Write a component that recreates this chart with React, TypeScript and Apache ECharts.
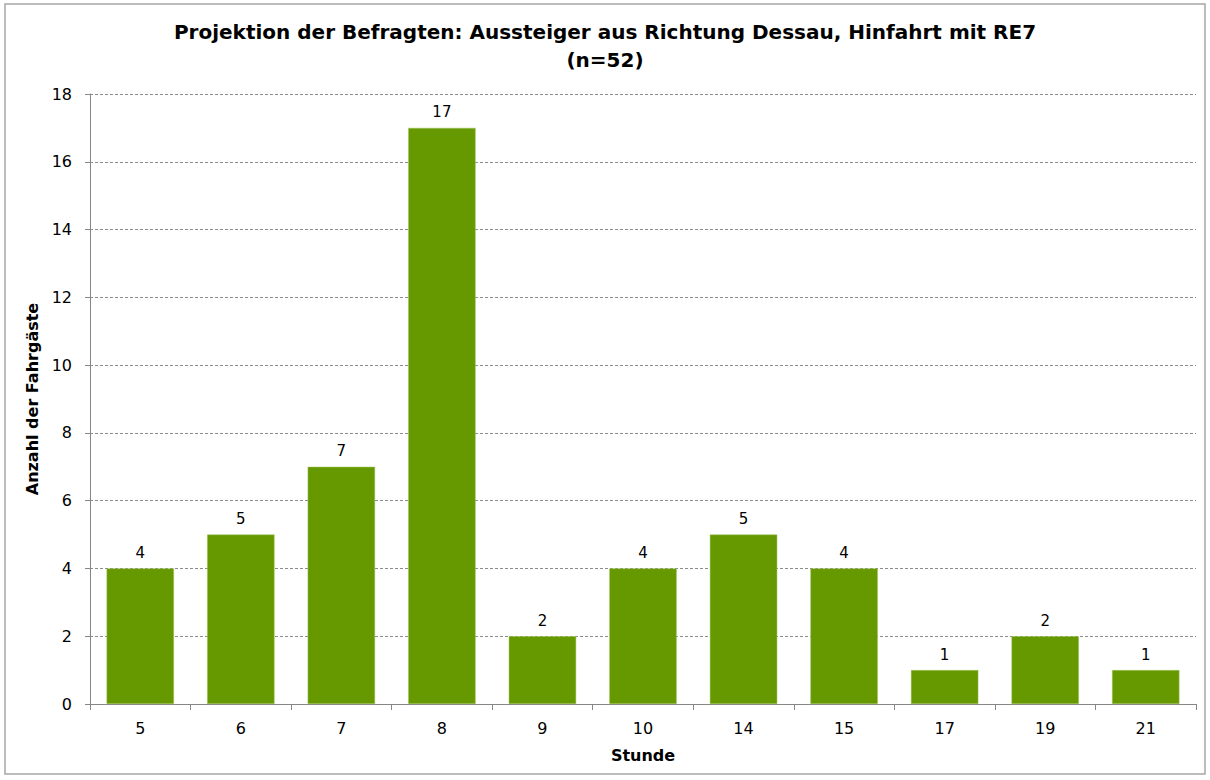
import React, { useEffect, useRef } from "react";
import * as echarts from "echarts";

const categories = ["5", "6", "7", "8", "9", "10", "14", "15", "17", "19", "21"];
const values = [4, 5, 7, 17, 2, 4, 5, 4, 1, 2, 1];
const titleText = "Projektion der Befragten: Aussteiger aus Richtung Dessau, Hinfahrt mit RE7\n(n=52)";
const yName = "Anzahl der Fahrgäste";
const xName = "Stunde";

const FONT = "DejaVu Sans";

export default function App() {
  const ref = useRef<HTMLDivElement>(null);
  useEffect(() => {
    const chart = echarts.init(ref.current!, null, { renderer: "svg" });
    chart.setOption({
      animation: false,
      backgroundColor: "#fff",
      title: {
        text: titleText,
        left: "center",
        top: 13,
        textStyle: {
          fontFamily: FONT,
          fontWeight: "bold",
          fontSize: 20,
          lineHeight: 28,
          color: "#000",
        },
      },
      graphic: [
        {
          type: "rect",
          shape: { x: 5, y: 4, width: 1200, height: 770 },
          style: { fill: "none", stroke: "#a6a6a6", lineWidth: 1.5 },
          silent: true,
        },
      ],
      grid: { left: 90, right: 14, top: 94, bottom: 76, containLabel: false },
      xAxis: {
        type: "category",
        data: categories,
        name: xName,
        nameLocation: "middle",
        nameGap: 43,
        nameTextStyle: { fontFamily: FONT, fontWeight: "bold", fontSize: 16, color: "#000" },
        axisLine: { lineStyle: { color: "#868686", width: 1 } },
        axisTick: { show: true, length: 6, lineStyle: { color: "#868686" } },
        axisLabel: { fontFamily: FONT, fontSize: 16, color: "#000", margin: 16 },
      },
      yAxis: {
        type: "value",
        min: 0,
        max: 18,
        interval: 2,
        name: yName,
        nameLocation: "middle",
        nameGap: 38,
        nameTextStyle: { fontFamily: FONT, fontWeight: "bold", fontSize: 16, color: "#000" },
        axisLine: { show: true, lineStyle: { color: "#868686", width: 1 } },
        axisTick: { show: true, length: 5, lineStyle: { color: "#868686" } },
        axisLabel: { fontFamily: FONT, fontSize: 16, color: "#000", margin: 18 },
        splitLine: { show: true, lineStyle: { color: "#8c8c8c", type: [3, 2], width: 1 } },
      },
      series: [
        {
          type: "bar",
          data: values,
          barCategoryGap: "33%",
          itemStyle: { color: "#669900", borderColor: "#9fc45a", borderWidth: 0.5 },
          label: {
            show: true,
            position: "top",
            distance: 8,
            fontFamily: FONT,
            fontSize: 15,
            color: "#000",
          },
        },
      ],
    });
    return () => chart.dispose();
  }, []);
  return (
    <div
      ref={ref}
      style={{ position: "fixed", left: 0, top: 0, width: 1210, height: 780 }}
    />
  );
}
